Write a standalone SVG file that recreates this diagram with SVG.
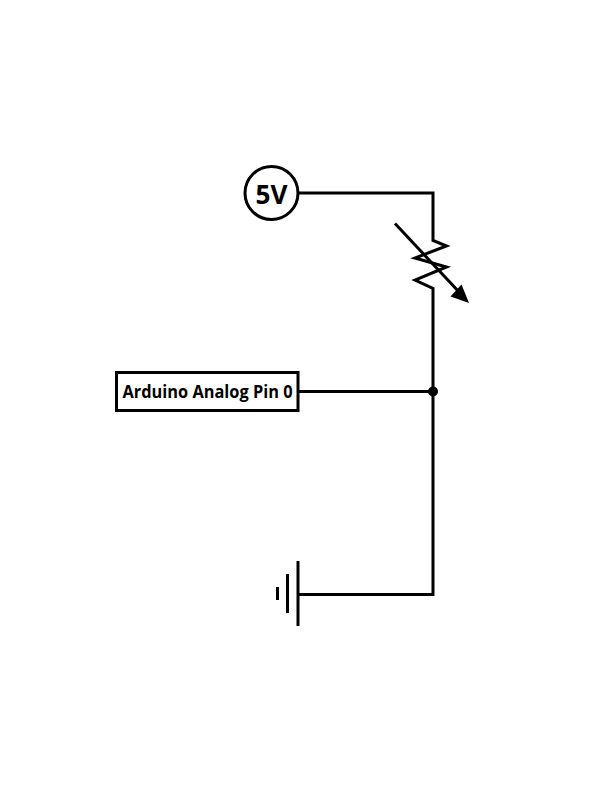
<svg xmlns="http://www.w3.org/2000/svg" width="612" height="792" viewBox="0 0 612 792">
<style>
.w{fill:none;stroke:#000;stroke-width:3}
.t{font-family:"Open Sans","Noto Sans","Liberation Sans",sans-serif;font-weight:700;fill:#000;text-anchor:middle}
</style>
<rect width="612" height="792" fill="#fff"/>
<g id="connectors">
<path class="w" d="M298 193H433V240.500L446.500 246L415 258L446.500 267L415 280L433 288.500V594.500H298"/>
<path class="w" d="M298 391.500H433"/>
<path class="w" d="M395 223.500L460 293"/>
<polygon points="469,303 461.500,284.500 450.500,296.500" fill="#000"/>
<circle cx="433" cy="391.500" r="5" fill="#000"/>
</g>
<g id="source-5v">
<circle class="w" cx="271.500" cy="193" r="26.500"/>
<text class="t" x="271.500" y="203.500" font-size="27" textLength="32" lengthAdjust="spacingAndGlyphs">5V</text>
</g>
<g id="analog-pin">
<rect class="w" x="116.500" y="372.500" width="181.500" height="38"/>
<text class="t" x="207.500" y="397.500" font-size="17" textLength="170" lengthAdjust="spacingAndGlyphs">Arduino Analog Pin 0</text>
</g>
<g id="ground">
<path class="w" d="M298 561V626M287.500 574V613M277.500 587V600"/>
</g>
</svg>
